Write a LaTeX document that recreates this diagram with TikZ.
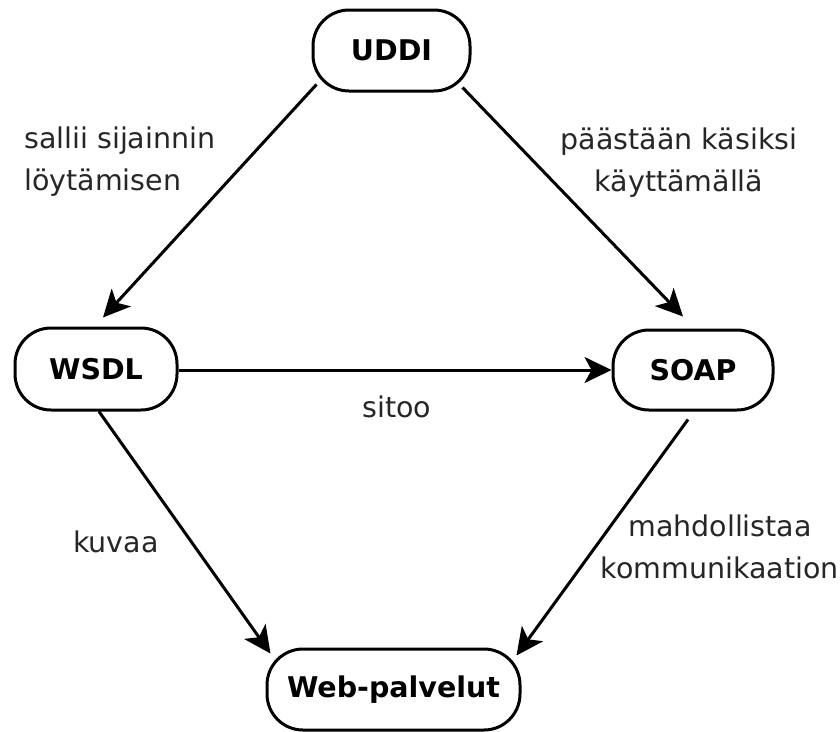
\documentclass[tikz,border=0pt]{standalone}
\usepackage{fontspec}
\setmainfont{DejaVu Sans}
\usetikzlibrary{arrows.meta,calc}
\begin{document}
\begin{tikzpicture}[x=1pt,y=-1pt,
  term/.style={draw=black,line width=3pt,rounded corners=36pt,fill=white,
    inner sep=0pt,font=\fontsize{28.5}{34}\selectfont\bfseries},
  rel/.style={line width=3pt,-{Stealth[length=27pt,width=26pt,inset=7pt]}},
  lbl/.style={font=\fontsize{28.5}{42}\selectfont,text=black!85,inner sep=0pt}]
  \useasboundingbox (0,0) rectangle (840,731);
  % concepts
  \node[term,minimum width=157pt,minimum height=81pt] (uddi) at (391.5,50.5) {UDDI};
  \node[term,minimum width=162pt,minimum height=82pt] (wsdl) at (96,369) {WSDL};
  \node[term,minimum width=160pt,minimum height=80pt] (soap) at (693,370) {SOAP};
  \node[term,minimum width=253pt,minimum height=81pt] (web) at (393.5,689.5) {Web-palvelut};
  % relations
  \draw[rel] ($(uddi.south west)+(5,-8)$) -- ($(wsdl.north)+(7,-9)$);
  \draw[rel] ($(uddi.south east)+(-9,-5)$) -- ($(soap.north)+(-10,-12)$);
  \draw[rel] (wsdl.east |- soap.west) -- (soap.west);
  \draw[rel] ($(wsdl.south)+(3,0)$) -- ($(web.north west)+(5,6)$);
  \draw[rel] ($(soap.south)+(-5,8)$) -- ($(web.north east)+(-5,8)$);
  % relation labels
  \node[lbl,align=left,anchor=west] (l1) at (24,162) {sallii sijainnin\\löytämisen};
  \node[lbl,align=center] (l2) at (679,163) {päästään käsiksi\\käyttämällä};
  \node[lbl] (l3) at (397,407) {sitoo};
  \node[lbl] (l4) at (116,542) {kuvaa};
  \node[lbl,align=center] (l5) at (720,547) {mahdollistaa\\kommunikaation};
\end{tikzpicture}
\end{document}
